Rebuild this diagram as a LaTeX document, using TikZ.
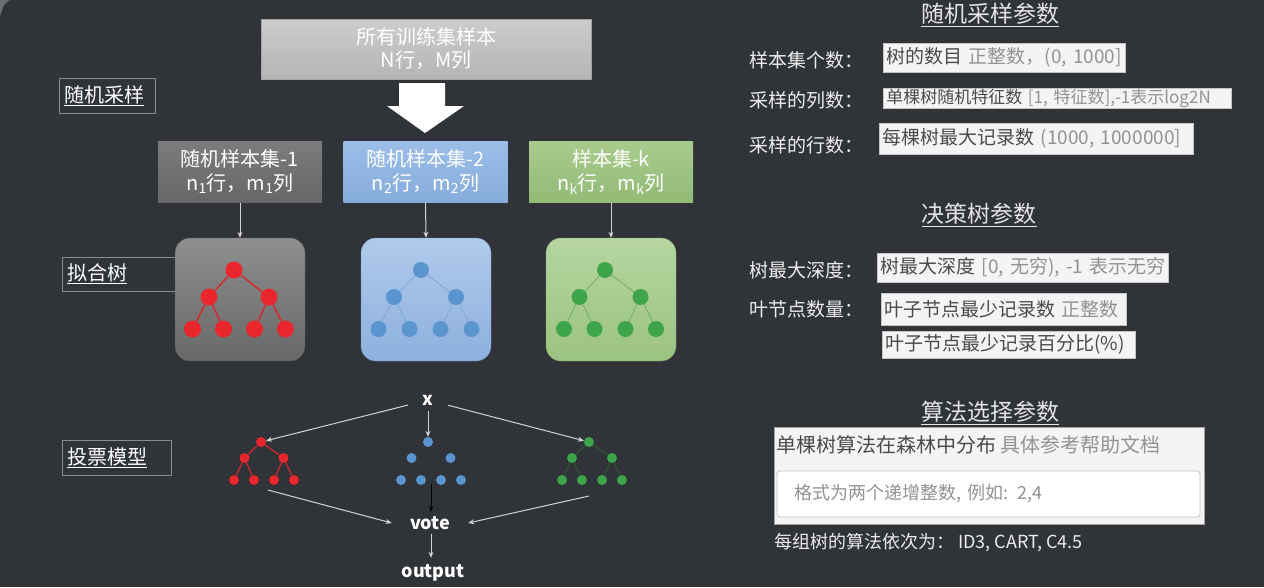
\documentclass[tikz,border=0pt]{standalone}
\usepackage{fontspec}
\setmainfont{Noto Sans CJK SC}
\usetikzlibrary{arrows.meta}

\definecolor{bg}{HTML}{303338}
\definecolor{corner}{HTML}{6A6D72}
\definecolor{lblgray}{HTML}{8C8C8C}
\definecolor{linkgray}{HTML}{D4D4D4}
\definecolor{topA}{HTML}{CDCDCD}
\definecolor{topB}{HTML}{B4B4B4}
\definecolor{grayA}{HTML}{7C7C7C}
\definecolor{grayB}{HTML}{666666}
\definecolor{blueA}{HTML}{9BBEE8}
\definecolor{blueB}{HTML}{86ACDC}
\definecolor{greenA}{HTML}{A8CB8D}
\definecolor{greenB}{HTML}{93BB75}
\definecolor{tgrayA}{HTML}{8E8E8E}
\definecolor{tgrayB}{HTML}{686868}
\definecolor{tblueA}{HTML}{B0CAEA}
\definecolor{tblueB}{HTML}{8DB0DE}
\definecolor{tgreenA}{HTML}{B6D5A0}
\definecolor{tgreenB}{HTML}{9BC381}
\definecolor{nred}{HTML}{E8262B}
\definecolor{ered}{HTML}{D42A2E}
\definecolor{nblue}{HTML}{5B95CF}
\definecolor{eblue}{HTML}{7FA7D6}
\definecolor{ngreen}{HTML}{3EA54A}
\definecolor{egreen}{HTML}{6DAF66}
\definecolor{edgreen}{HTML}{2E5E31}
\definecolor{fldbg}{HTML}{F4F4F4}
\definecolor{fldline}{HTML}{C4C4C4}
\definecolor{darktxt}{HTML}{4A4A4A}
\definecolor{lighttxt}{HTML}{929292}
\definecolor{headtxt}{HTML}{E4E4E4}

\newcommand\fsz[2]{\fontsize{#1}{#2}\selectfont}

% binary tree: #1 prefix, #2 root x, #3 centre x, #4 root y,
% #5 half gap of middle level, #6 inner leaf offset, #7 outer leaf offset,
% #8 depth of middle level, #9 depth of leaf level
\newcommand\drawtree[9]{%
  \node[tn] (#1r) at (#2,#4) {};
  \node[tn] (#1a) at (#3-#5,#4+#8) {};
  \node[tn] (#1b) at (#3+#5,#4+#8) {};
  \node[tn] (#1c) at (#3-#7,#4+#9) {};
  \node[tn] (#1d) at (#3-#6,#4+#9) {};
  \node[tn] (#1e) at (#3+#6,#4+#9) {};
  \node[tn] (#1f) at (#3+#7,#4+#9) {};
  \draw[te] (#1r)--(#1a) (#1r)--(#1b) (#1a)--(#1c) (#1a)--(#1d)
            (#1b)--(#1e) (#1b)--(#1f);
}

\begin{document}
\begin{tikzpicture}[x=1pt,y=-1pt,
  lblbox/.style={draw=lblgray, line width=1pt, text=white, font=\fsz{20}{24},
    inner xsep=5pt, inner ysep=0pt, align=left},
  topbox/.style={top color=topA, bottom color=topB, draw=topB!90!black,
    text=white, font=\fsz{20}{23}, align=center,
    minimum width=330pt, minimum height=60pt, inner sep=0pt},
  sampbox/.style={text=white, font=\fsz{20}{24}, align=center,
    minimum width=164pt, minimum height=61pt, inner sep=0pt},
  treebox/.style={rounded corners=15pt, minimum width=130pt,
    minimum height=123pt, inner sep=0pt},
  link/.style={draw=linkgray, line width=1pt,
    -{Stealth[length=6pt,width=5pt]}},
  flowtxt/.style={text=white, font=\bfseries\fsz{18}{20}, inner sep=0pt},
  fld/.style={fill=fldbg, draw=fldline, line width=0.6pt, anchor=west,
    inner xsep=3pt, inner ysep=0pt, align=left, font=\fsz{19}{21}},
  parlbl/.style={anchor=west, text=white!93!black, font=\fsz{19}{21},
    inner sep=0pt},
  heading/.style={text=headtxt, font=\fsz{23}{26}, inner sep=0pt},
  tn/.style={circle, inner sep=0pt},
  te/.style={}]

\fill[bg] (0,0) rectangle (1264,587);
\useasboundingbox (0,0) rectangle (1264,587);
% rounded window corner
\fill[corner] (0,0) -- (10,0) .. controls (4,4) .. (0,16) -- cycle;

% ---------------- sampling ----------------
\node[topbox] (all) at (426,49) {所有训练集样本\\N行，M列};
\fill[white] (399,83) -- (445,83) -- (445,106) -- (464,106) -- (425,133)
  -- (387,106) -- (399,106) -- cycle;

\node[lblbox, text width=86pt, minimum height=35pt] (lsamp) at (107,95.5)
  {\underline{随机采样}};

\node[sampbox, top color=grayA, bottom color=grayB] (s1) at (240,172)
  {随机样本集-1\\n\textsubscript{1}行，m\textsubscript{1}列};
\node[sampbox, top color=blueA, bottom color=blueB] (s2) at (425.5,172)
  {随机样本集-2\\n\textsubscript{2}行，m\textsubscript{2}列};
\node[sampbox, top color=greenA, bottom color=greenB] (s3) at (611,172)
  {样本集-k\\n\textsubscript{k}行，m\textsubscript{k}列};

% ---------------- fitted trees ----------------
\node[lblbox, text width=103pt, minimum height=34pt] (lfit) at (118.5,274)
  {\underline{拟合树}};

\node[treebox, top color=tgrayA, bottom color=tgrayB, draw=tgrayB!85!black] (t1) at (240,299.5) {};
\node[treebox, top color=tblueA, bottom color=tblueB, draw=tblueB!85!black] (t2) at (426,299.5) {};
\node[treebox, top color=tgreenA, bottom color=tgreenB, draw=tgreenB!85!black] (t3) at (611,299.5) {};

\draw[link] (s1.south) -- (t1.north);
\draw[link] (s2.south) -- (t2.north);
\draw[link] (s3.south) -- (t3.north);

\begin{scope}[tn/.style={circle, fill=nred, minimum size=17pt, inner sep=0pt},
              te/.style={draw=ered, line width=1.5pt}]
  \drawtree{br}{234}{239}{270}{30}{15.5}{46.5}{27}{59}
\end{scope}
\begin{scope}[tn/.style={circle, fill=nblue, minimum size=16pt, inner sep=0pt},
              te/.style={draw=eblue, line width=0.8pt}]
  \drawtree{bb}{421}{425}{270}{31}{15.5}{46.5}{27}{59}
\end{scope}
\begin{scope}[tn/.style={circle, fill=ngreen, minimum size=16pt, inner sep=0pt},
              te/.style={draw=egreen, line width=0.8pt}]
  \drawtree{bg}{605}{610}{270}{30.5}{15.5}{46}{27}{59}
\end{scope}

% ---------------- voting ----------------
\node[lblbox, text width=99pt, minimum height=35pt] (lvote) at (116.5,457.5)
  {\underline{投票模型}};

\begin{scope}[tn/.style={circle, fill=nred, minimum size=10pt, inner sep=0pt},
              te/.style={draw=ered, line width=1.2pt}]
  \drawtree{sr}{261}{264}{442}{19.5}{10}{30}{16}{38}
\end{scope}
\begin{scope}[tn/.style={circle, fill=nblue, minimum size=10pt, inner sep=0pt},
              te/.style={draw=none}]
  \drawtree{sb}{428}{431}{442}{19.5}{10}{30}{16}{38}
\end{scope}
\begin{scope}[tn/.style={circle, fill=ngreen, minimum size=10pt, inner sep=0pt},
              te/.style={draw=edgreen, line width=0.9pt}]
  \drawtree{sg}{589}{592}{442}{20}{10}{30}{16}{38}
\end{scope}

\node[flowtxt, minimum width=40pt, minimum height=22pt] (xin) at (428,400) {x};
\node[flowtxt, minimum width=76pt, minimum height=22pt] (vote) at (430,523) {vote};
\node[flowtxt, minimum height=30pt] (out) at (433,573) {output};

\coordinate (rv) at (268,490);
\coordinate (bv) at (431,484);
\coordinate (gv) at (589,496);

\draw[link] (xin) -- (srr);
\draw[link] (xin.south) -- (sbr.north);
\draw[link] (xin) -- (sgr);
\draw[link] (rv) -- (vote.west);
\draw[link] (gv) -- (vote.east);
\draw[draw=black, line width=1pt, -{Stealth[length=6pt,width=5pt]}] (bv) -- (bv |- vote.north);
\draw[link] (vote.south -| bv) -- (out.north -| bv);

% ---------------- parameter panel ----------------
\node[heading] (h1) at (990,15) {\underline{随机采样参数}};
\node[parlbl] (p1) at (749,60) {样本集个数：};
\node[parlbl] (p2) at (749,100) {采样的列数：};
\node[parlbl] (p3) at (749,145) {采样的行数：};
\node[fld, text width=236pt, minimum height=29pt] (f1) at (883,57.5)
  {\mbox{\textcolor{darktxt}{树的数目} \textcolor{lighttxt}{正整数，(0, 1000]}}};
\node[fld, text width=342pt, minimum height=20pt, font=\fsz{17}{19}] (f2) at (883,98)
  {\mbox{\textcolor{darktxt}{单棵树随机特征数} \textcolor{lighttxt}{[1, 特征数],-1表示log2N}}};
\node[fld, text width=308pt, minimum height=31pt] (f3) at (879,138.5)
  {\mbox{\textcolor{darktxt}{每棵树最大记录数} \textcolor{lighttxt}{(1000, 1000000]}}};

\node[heading] (h2) at (979,215) {\underline{决策树参数}};
\node[parlbl] (p4) at (749,270) {树最大深度：};
\node[parlbl] (p5) at (749,309) {叶节点数量：};
\node[fld, text width=285pt, minimum height=29pt] (f4) at (877,267.5)
  {\mbox{\textcolor{darktxt}{树最大深度} \textcolor{lighttxt}{[0, 无穷), -1 表示无穷}}};
\node[fld, text width=239pt, minimum height=32pt] (f5) at (881,309)
  {\mbox{\textcolor{darktxt}{叶子节点最少记录数} \textcolor{lighttxt}{正整数}}};
\node[fld, text width=247pt, minimum height=27pt] (f6) at (882,344.5)
  {\mbox{\textcolor{darktxt}{叶子节点最少记录百分比(\%)}}};

\node[heading] (h3) at (990,413) {\underline{算法选择参数}};
\node[fill=fldbg, draw=lblgray!80!white, line width=0.8pt, minimum width=430pt,
  minimum height=97pt, inner sep=0pt] (alg) at (989,475.5) {};
\node[anchor=west, inner sep=0pt, font=\fsz{20}{22}] (algt) at (776,445)
  {\textcolor{darktxt}{单棵树算法在森林中分布} \textcolor{lighttxt}{具体参考帮助文档}};
\node[fill=white, draw=fldline, rounded corners=3pt, line width=0.8pt,
  text width=389pt, inner xsep=17pt, inner ysep=0pt, minimum height=46pt,
  align=left, text=lighttxt, font=\fsz{18}{20}] (algin) at (988.5,494)
  {格式为两个递增整数, 例如: 2,4};
\node[anchor=west, inner sep=0pt, text=white!92!black, font=\fsz{18}{20}] (algn) at (774,543)
  {每组树的算法依次为： ID3, CART, C4.5};

\end{tikzpicture}
\end{document}
